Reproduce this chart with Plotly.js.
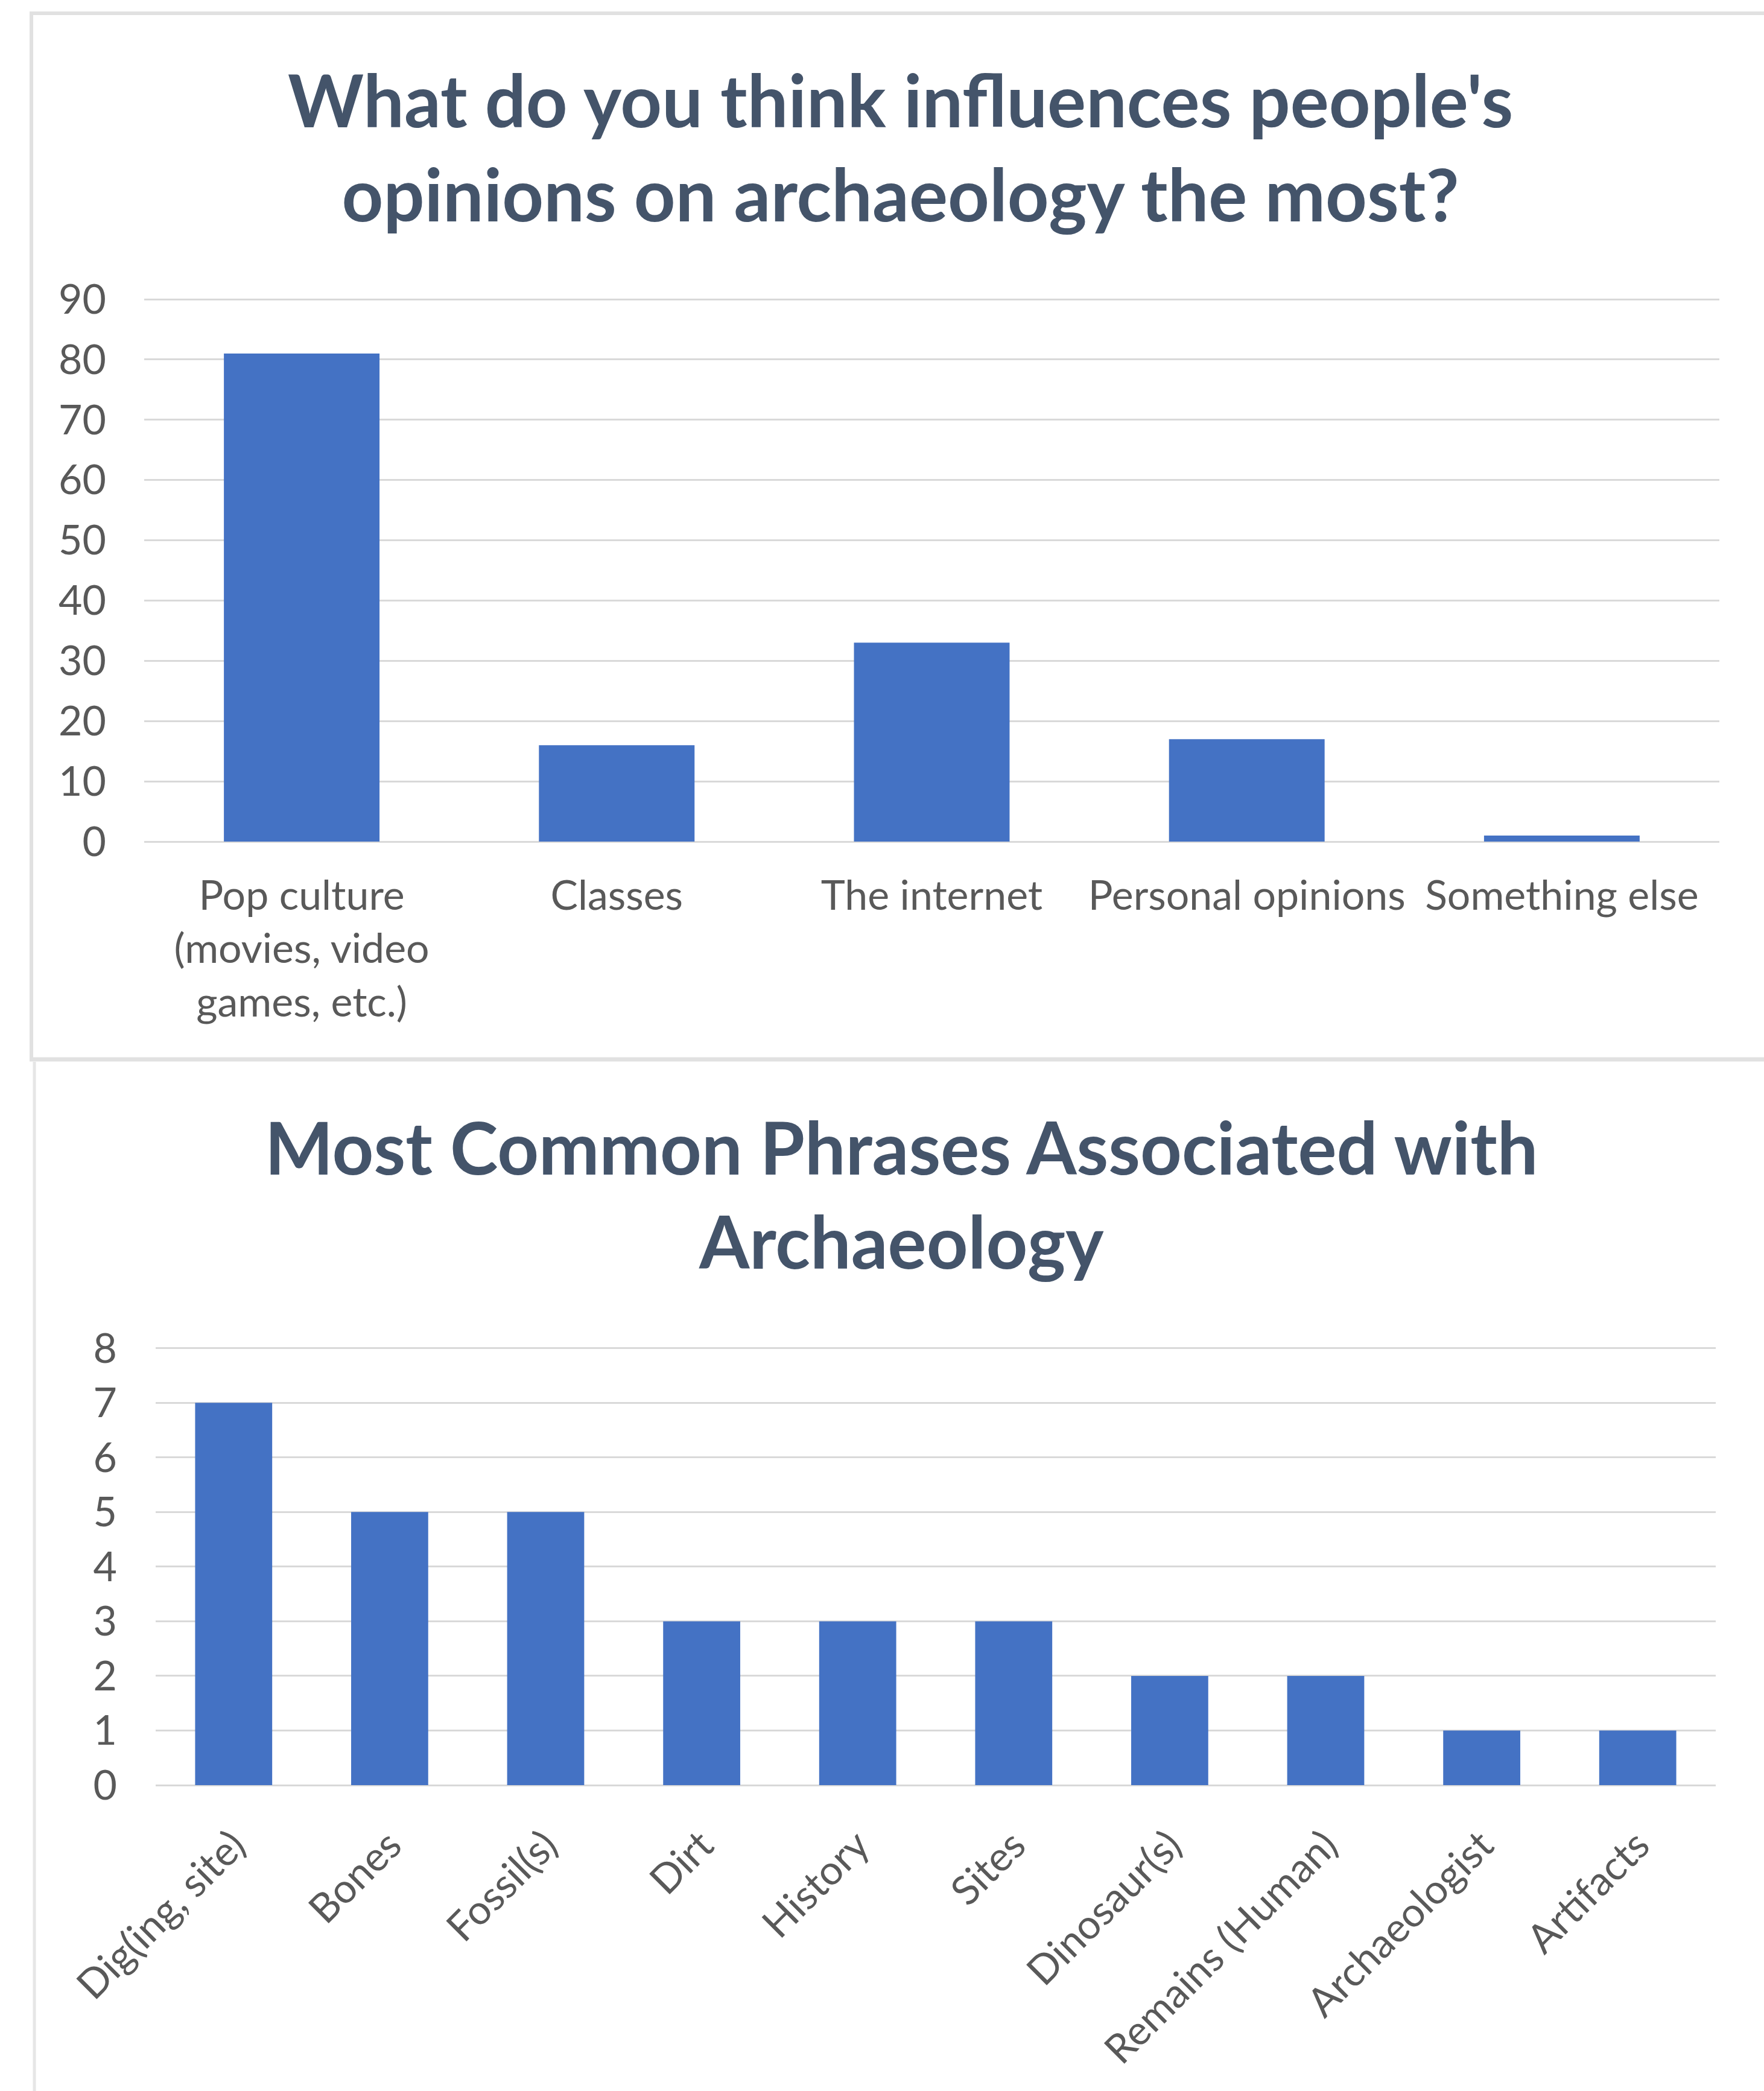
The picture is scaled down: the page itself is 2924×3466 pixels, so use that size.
<!DOCTYPE html>
<html>
<head>
<meta charset="utf-8">
<script src="https://cdn.plot.ly/plotly-3.0.1.min.js"></script>
<style>
  html, body { margin: 0; padding: 0; background: #ffffff; }
  #chart { width: 2924px; height: 3466px; }
</style>
</head>
<body>
<div id="chart"></div>
<script>
// ---- Data: chart 1 ----
const influenceCategories = [
  "Pop culture (movies, video games, etc.)",
  "Classes",
  "The internet",
  "Personal opinions",
  "Something else"
];
const influenceTickLabels = [
  "Pop culture<br>(movies, video<br>games, etc.)",
  "Classes",
  "The internet",
  "Personal opinions",
  "Something else"
];
const influenceValues = [81, 16, 33, 17, 1];
const influenceTitle = "What do you think influences people's<br>opinions on archaeology the most?";

// ---- Data: chart 2 ----
const phraseCategories = [
  "Dig(ing, site)", "Bones", "Fossil(s)", "Dirt", "History",
  "Sites", "Dinosaur(s)", "Remains (Human)", "Archaeologist", "Artifacts"
];
const phraseValues = [7, 5, 5, 3, 3, 3, 2, 2, 1, 1];
const phraseTitle = "Most Common Phrases Associated with<br>Archaeology";

// ---- Styling / layout ----
const W = 2924, H = 3466;
const px = v => v / W;
const py = v => 1 - v / H;

const barColor = "#4472C4";
const gridColor = "#d9d9d9";
const tickColor = "#595959";
const titleColor = "#44546A";
const fontFamily = "Lato, 'Open Sans', sans-serif";

const trace1 = {
  type: "bar",
  x: influenceCategories,
  y: influenceValues,
  xaxis: "x", yaxis: "y",
  marker: { color: barColor },
  hoverinfo: "x+y"
};
const trace2 = {
  type: "bar",
  x: phraseCategories,
  y: phraseValues,
  xaxis: "x2", yaxis: "y2",
  marker: { color: barColor },
  hoverinfo: "x+y"
};

const axisCommonY = {
  showgrid: true, gridcolor: gridColor, gridwidth: 3,
  zeroline: true, zerolinecolor: gridColor, zerolinewidth: 3,
  showline: false, ticks: "",
  tickfont: { family: fontFamily, size: 68, color: tickColor },
  fixedrange: true
};

const layout = {
  width: W, height: H,
  margin: { l: 0, r: 0, t: 0, b: 0 },
  paper_bgcolor: "#ffffff",
  plot_bgcolor: "#ffffff",
  showlegend: false,
  bargap: 0.506,
  font: { family: fontFamily, color: tickColor },
  xaxis: {
    domain: [px(239), px(2850)],
    anchor: "y",
    type: "category",
    tickmode: "array",
    tickvals: influenceCategories,
    ticktext: influenceTickLabels,
    showgrid: false, zeroline: false, showline: false, ticks: "",
    tickfont: { family: fontFamily, size: 68, color: tickColor },
    ticklabelstandoff: 44,
    tickangle: 0,
    fixedrange: true
  },
  yaxis: Object.assign({}, axisCommonY, {
    domain: [py(1395), py(493)],
    anchor: "x",
    range: [0, 90.3],
    tickvals: [0, 10, 20, 30, 40, 50, 60, 70, 80, 90],
    ticklabelstandoff: 62
  }),
  xaxis2: {
    domain: [px(258), px(2844)],
    anchor: "y2",
    type: "category",
    showgrid: false, zeroline: false, showline: false, ticks: "",
    tickfont: { family: fontFamily, size: 67, color: tickColor },
    tickangle: -45,
    ticklabelstandoff: 46,
    fixedrange: true
  },
  yaxis2: Object.assign({}, axisCommonY, {
    domain: [py(2959), py(2232)],
    anchor: "x2",
    range: [0, 8.03],
    tickvals: [0, 1, 2, 3, 4, 5, 6, 7, 8],
    ticklabelstandoff: 63
  }),
  annotations: [
    {
      text: influenceTitle,
      xref: "paper", yref: "paper",
      x: px(1492), y: py(243),
      xanchor: "center", yanchor: "middle",
      showarrow: false,
      font: { family: fontFamily, size: 120, color: titleColor, weight: "bold" }
    },
    {
      text: phraseTitle,
      xref: "paper", yref: "paper",
      x: px(1494), y: py(1979),
      xanchor: "center", yanchor: "middle",
      showarrow: false,
      font: { family: fontFamily, size: 120, color: titleColor, weight: "bold" }
    }
  ],
  shapes: [
    // top card border (left, top, bottom)
    { type: "line", xref: "paper", yref: "paper", x0: px(52), x1: px(52), y0: py(19), y1: py(1759),
      line: { color: "#e1e1e1", width: 6 } },
    { type: "line", xref: "paper", yref: "paper", x0: px(49), x1: 1, y0: py(22), y1: py(22),
      line: { color: "#e1e1e1", width: 6 } },
    { type: "line", xref: "paper", yref: "paper", x0: px(49), x1: 1, y0: py(1756), y1: py(1756),
      line: { color: "#e1e1e1", width: 7 } },
    // bottom card border (left)
    { type: "line", xref: "paper", yref: "paper", x0: px(57), x1: px(57), y0: py(1760), y1: 0,
      line: { color: "#e6e6e6", width: 5 } }
  ]
};

Plotly.newPlot("chart", [trace1, trace2], layout, { staticPlot: true, displayModeBar: false });
</script>
</body>
</html>
